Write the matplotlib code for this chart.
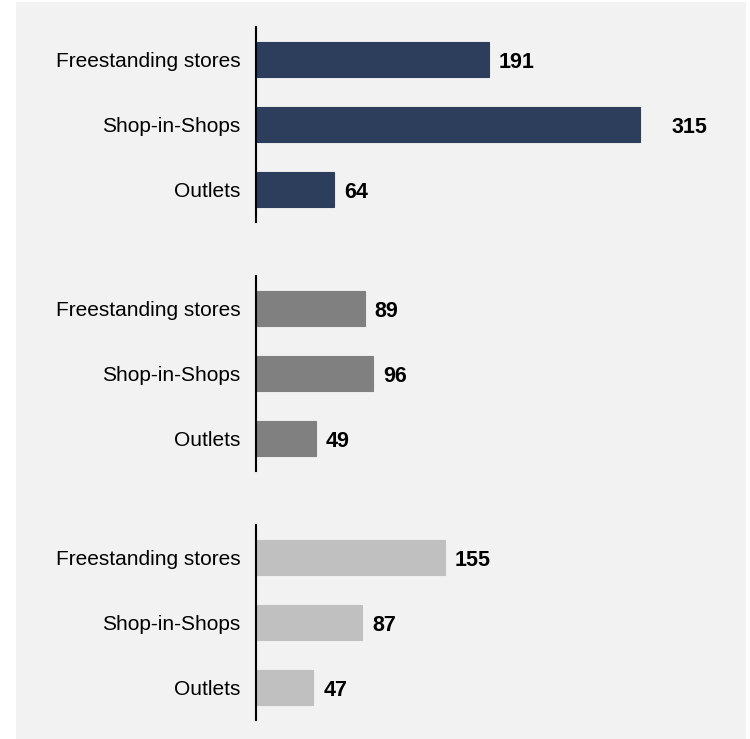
import matplotlib.pyplot as plt
from matplotlib.patches import Rectangle

plt.rcParams['font.family'] = ['Liberation Sans', 'DejaVu Sans']

categories = ["Freestanding stores", "Shop-in-Shops", "Outlets"]
group_a = [191, 315, 64]
group_b = [89, 96, 49]
group_c = [155, 87, 47]
colors = ["#2c3e5b", "#808080", "#c0c0c0"]

W, H = 750, 739
fig = plt.figure(figsize=(W / 100, H / 100), dpi=100)
fig.patch.set_facecolor("white")
fig.patches.append(Rectangle((16 / W, 0), 730 / W, 1 - 2 / H, transform=fig.transFigure,
                             facecolor="#f2f2f2", edgecolor="none", zorder=-10))

panel_tops = [27, 276, 525]
for vals, col, top in zip([group_a, group_b, group_c], colors, panel_tops):
    ax = fig.add_axes([256 / W, 1 - (top + 195) / H, 488 / W, 195 / H])
    ax.patch.set_alpha(0)
    y = range(len(categories))
    ax.barh(y, vals, height=0.55, color=col, edgecolor=col, linewidth=0.8)
    ax.set_xlim(0, 400)
    ax.set_ylim(2.5, -0.5)
    ax.set_yticks(list(y))
    ax.set_yticklabels(categories, fontsize=15)
    ax.tick_params(axis="y", length=0, pad=11)
    ax.set_xticks([])
    for s in ["top", "right", "bottom"]:
        ax.spines[s].set_visible(False)
    ax.spines["left"].set_linewidth(1.5)
    ax.spines["left"].set_color("black")
    for i, v in enumerate(vals):
        # the longest bar's label sits further out in the original
        off = 31 if v == 315 else 10
        ax.annotate(str(v), (v, i), xytext=(off * 0.72, -2.5), textcoords="offset points",
                    va="center", ha="left", fontsize=15.5, fontweight="bold")

fig.savefig("out.png", dpi=100)
